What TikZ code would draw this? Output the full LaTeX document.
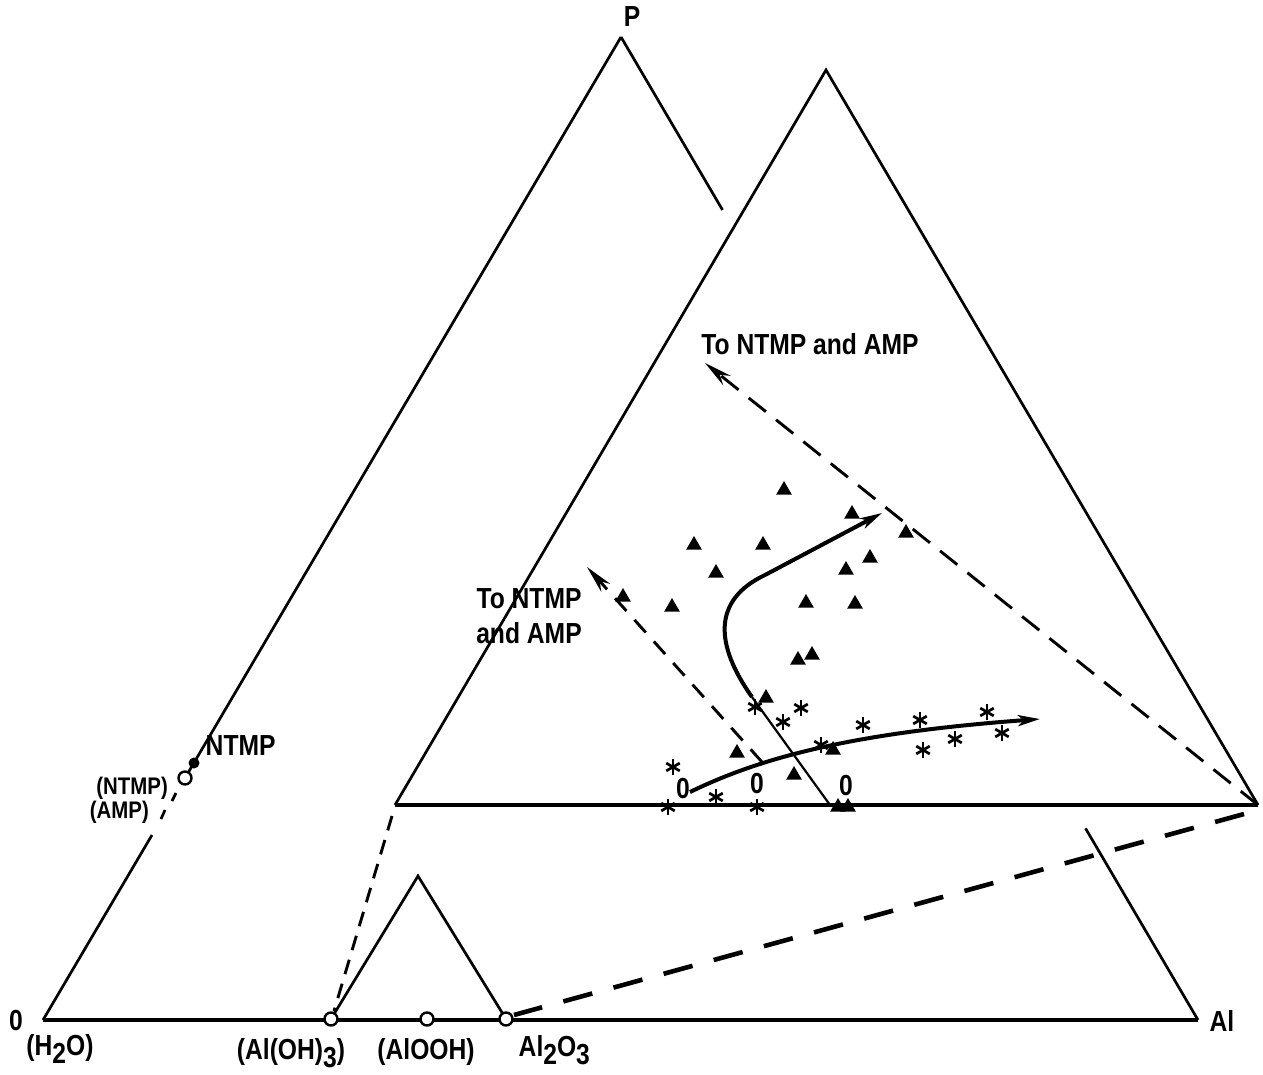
\documentclass[tikz,border=0pt]{standalone}
\usepackage{fontspec}
\setmainfont{Liberation Sans}[FakeStretch=0.85]
\usetikzlibrary{arrows.meta,shapes.geometric,calc}
\newcommand{\lowsub}[1]{\raisebox{-0.3em}{#1}}
\begin{document}
\begin{tikzpicture}[x=1pt,y=-1pt,line join=miter,
  lbl/.style={inner sep=0.5pt,font=\fontsize{29}{35}\selectfont\bfseries},
  smalllbl/.style={inner sep=0pt,font=\fontsize{24}{26}\selectfont\bfseries},
  tri/.style={regular polygon,regular polygon sides=3,fill=black,inner sep=0pt,minimum size=18pt},
  astm/.style={circle,inner sep=0pt,minimum size=19pt,
    path picture={\foreach \ang in {90,30,150}{\draw[line width=2.7pt]
      ($(path picture bounding box.center)+(\ang:7.8pt)$) -- ($(path picture bounding box.center)+(\ang+180:7.8pt)$);}}},
  ocirc/.style={circle,draw,line width=2.4pt,fill=white,inner sep=0pt,minimum size=13pt},
  fcirc/.style={circle,fill=black,inner sep=0pt,minimum size=11pt},
  side/.style={line width=2.7pt},
  thickbase/.style={line width=4.6pt},
  curvearrow/.style={line width=4pt,-{Stealth[length=22pt,width=11pt,inset=6pt]}},
  dasharrow/.style={line width=2.9pt,dash pattern=on 22pt off 13pt,-{Stealth[length=28pt,width=12pt,inset=9pt]}},
]
\useasboundingbox (0,0) rectangle (1263,1075);

% main ternary triangle
\coordinate (O) at (43,1020);
\coordinate (P) at (621,37);
\coordinate (Al) at (1198,1020);
\coordinate (la) at (152,835);
\coordinate (lb1) at (161,819);
\coordinate (lb2) at (165,810);
\coordinate (lc1) at (172,801);
\coordinate (lc2) at (176,793);
\coordinate (ntmpO) at (185,778);
\coordinate (ntmpF) at (194,763);
\draw[side] (O) -- (la);
\draw[side] (lb1) -- (lb2);
\draw[side] (lc1) -- (lc2);
\draw[side] (ntmpO) -- (P);
\draw[side] (P) -- ($(P)!0.176!(Al)$);
\draw[side] ($(P)!0.805!(Al)$) -- (Al);
\draw[thickbase] (O) -- (Al);

% inner enlarged triangle
\coordinate (iL) at (395,805);
\coordinate (iT) at (826,70);
\coordinate (iR) at (1258,805);
\draw[side] (iL) -- (iT) -- (iR);
\draw[thickbase] (iL) -- (iR);

% small triangle
\coordinate (sL) at (331,1019);
\coordinate (sT) at (418,876);
\coordinate (sR) at (506,1019);
\coordinate (sM) at (427,1019);
\draw[side] (sL) -- (sT) -- (sR);

% dashed projection lines
\coordinate (dLa) at (392,816);
\coordinate (dLb) at (334,1011);
\draw[line width=2.9pt,dash pattern=on 15pt off 10pt] (dLa) -- (dLb);
\coordinate (dRa) at (1244,814);
\coordinate (dRb) at (514,1015);
\draw[line width=4.6pt,dash pattern=on 30pt off 22pt] (dRa) -- (dRb);

% dashed arrows toward NTMP and AMP
\coordinate (ua) at (705,363);
\draw[dasharrow] (iR) -- (ua);
\coordinate (la1) at (762,762);
\coordinate (la2) at (587,567);
\draw[dasharrow,dash pattern=on 17pt off 12pt] (la1) -- (la2);

% composition circles
\node[ocirc] (cAOH3) at (sL) {};
\node[ocirc] (cAOOH) at (sM) {};
\node[ocirc] (cA2O3) at (sR) {};
\node[ocirc] (cNo) at (ntmpO) {};
\node[fcirc] (cNf) at (ntmpF) {};

% trend curves
\coordinate (c0) at (752,697);
\coordinate (cb) at (830,805);
\draw[line width=2.2pt] (cb) -- (c0);
\coordinate (cu) at (882,513);
\draw[curvearrow] (c0) .. controls (715,645) and (712,600) .. (765,575) -- (cu);
\coordinate (l0) at (690,792);
\coordinate (l1) at (1040,719);
\draw[curvearrow] (l0) .. controls (760,758) and (850,733) .. (l1);

% triangle data points
\foreach \n/\x/\y in {1/784/490,2/694/545,3/763/545,4/716/573,5/623/597,6/672/607,
  7/852/514,8/906/533,9/870/558,10/846/570,11/806/603,12/855/604,13/798/660,14/812/655,
  15/766/698,16/737/753,17/794/775,18/833/750,19/838/807,20/848/807}
  \node[tri] (t\n) at (\x,\y) {};

% asterisk data points
\foreach \n/\x/\y in {1/755/707,2/783/722,3/801/708,4/673/767,5/716/797,6/757/807,7/668/807,
  8/821/745,9/863/725,10/920/720,11/923/750,12/955/739,13/987/712,14/1002/733}
  \node[astm] (a\n) at (\x,\y) {};

% zero labels
\node[lbl] (z1) at (683,789) {0};
\node[lbl] (z2) at (757,784) {0};
\node[lbl] (z3) at (846,786) {0};

% labels
\node[lbl] (lP) at (632,17) {P};
\node[lbl] (lO) at (16,1021) {0};
\node[lbl] (lAl) at (1222,1021) {Al};
\node[lbl] (lH2O) at (60,1049) {(H\lowsub{2}O)};
\node[lbl] (lAOH3) at (291,1053) {(Al(OH)\lowsub{3})};
\node[lbl] (lAOOH) at (426,1052) {(AlOOH)};
\node[lbl,anchor=west] (lA2O3) at (518,1050) {Al\lowsub{2}O\lowsub{3}};
\node[lbl,anchor=west] (lNTMP) at (205,746) {NTMP};
\node[smalllbl,anchor=east] (lNTMPb) at (168,788) {(NTMP)};
\node[smalllbl,anchor=east] (lAMPb) at (149,812) {(AMP)};
\node[lbl] (lTo1) at (810,344) {To NTMP and AMP};
\node[lbl,align=center] (lTo2) at (529,616) {To NTMP\\and AMP};
\end{tikzpicture}
\end{document}
